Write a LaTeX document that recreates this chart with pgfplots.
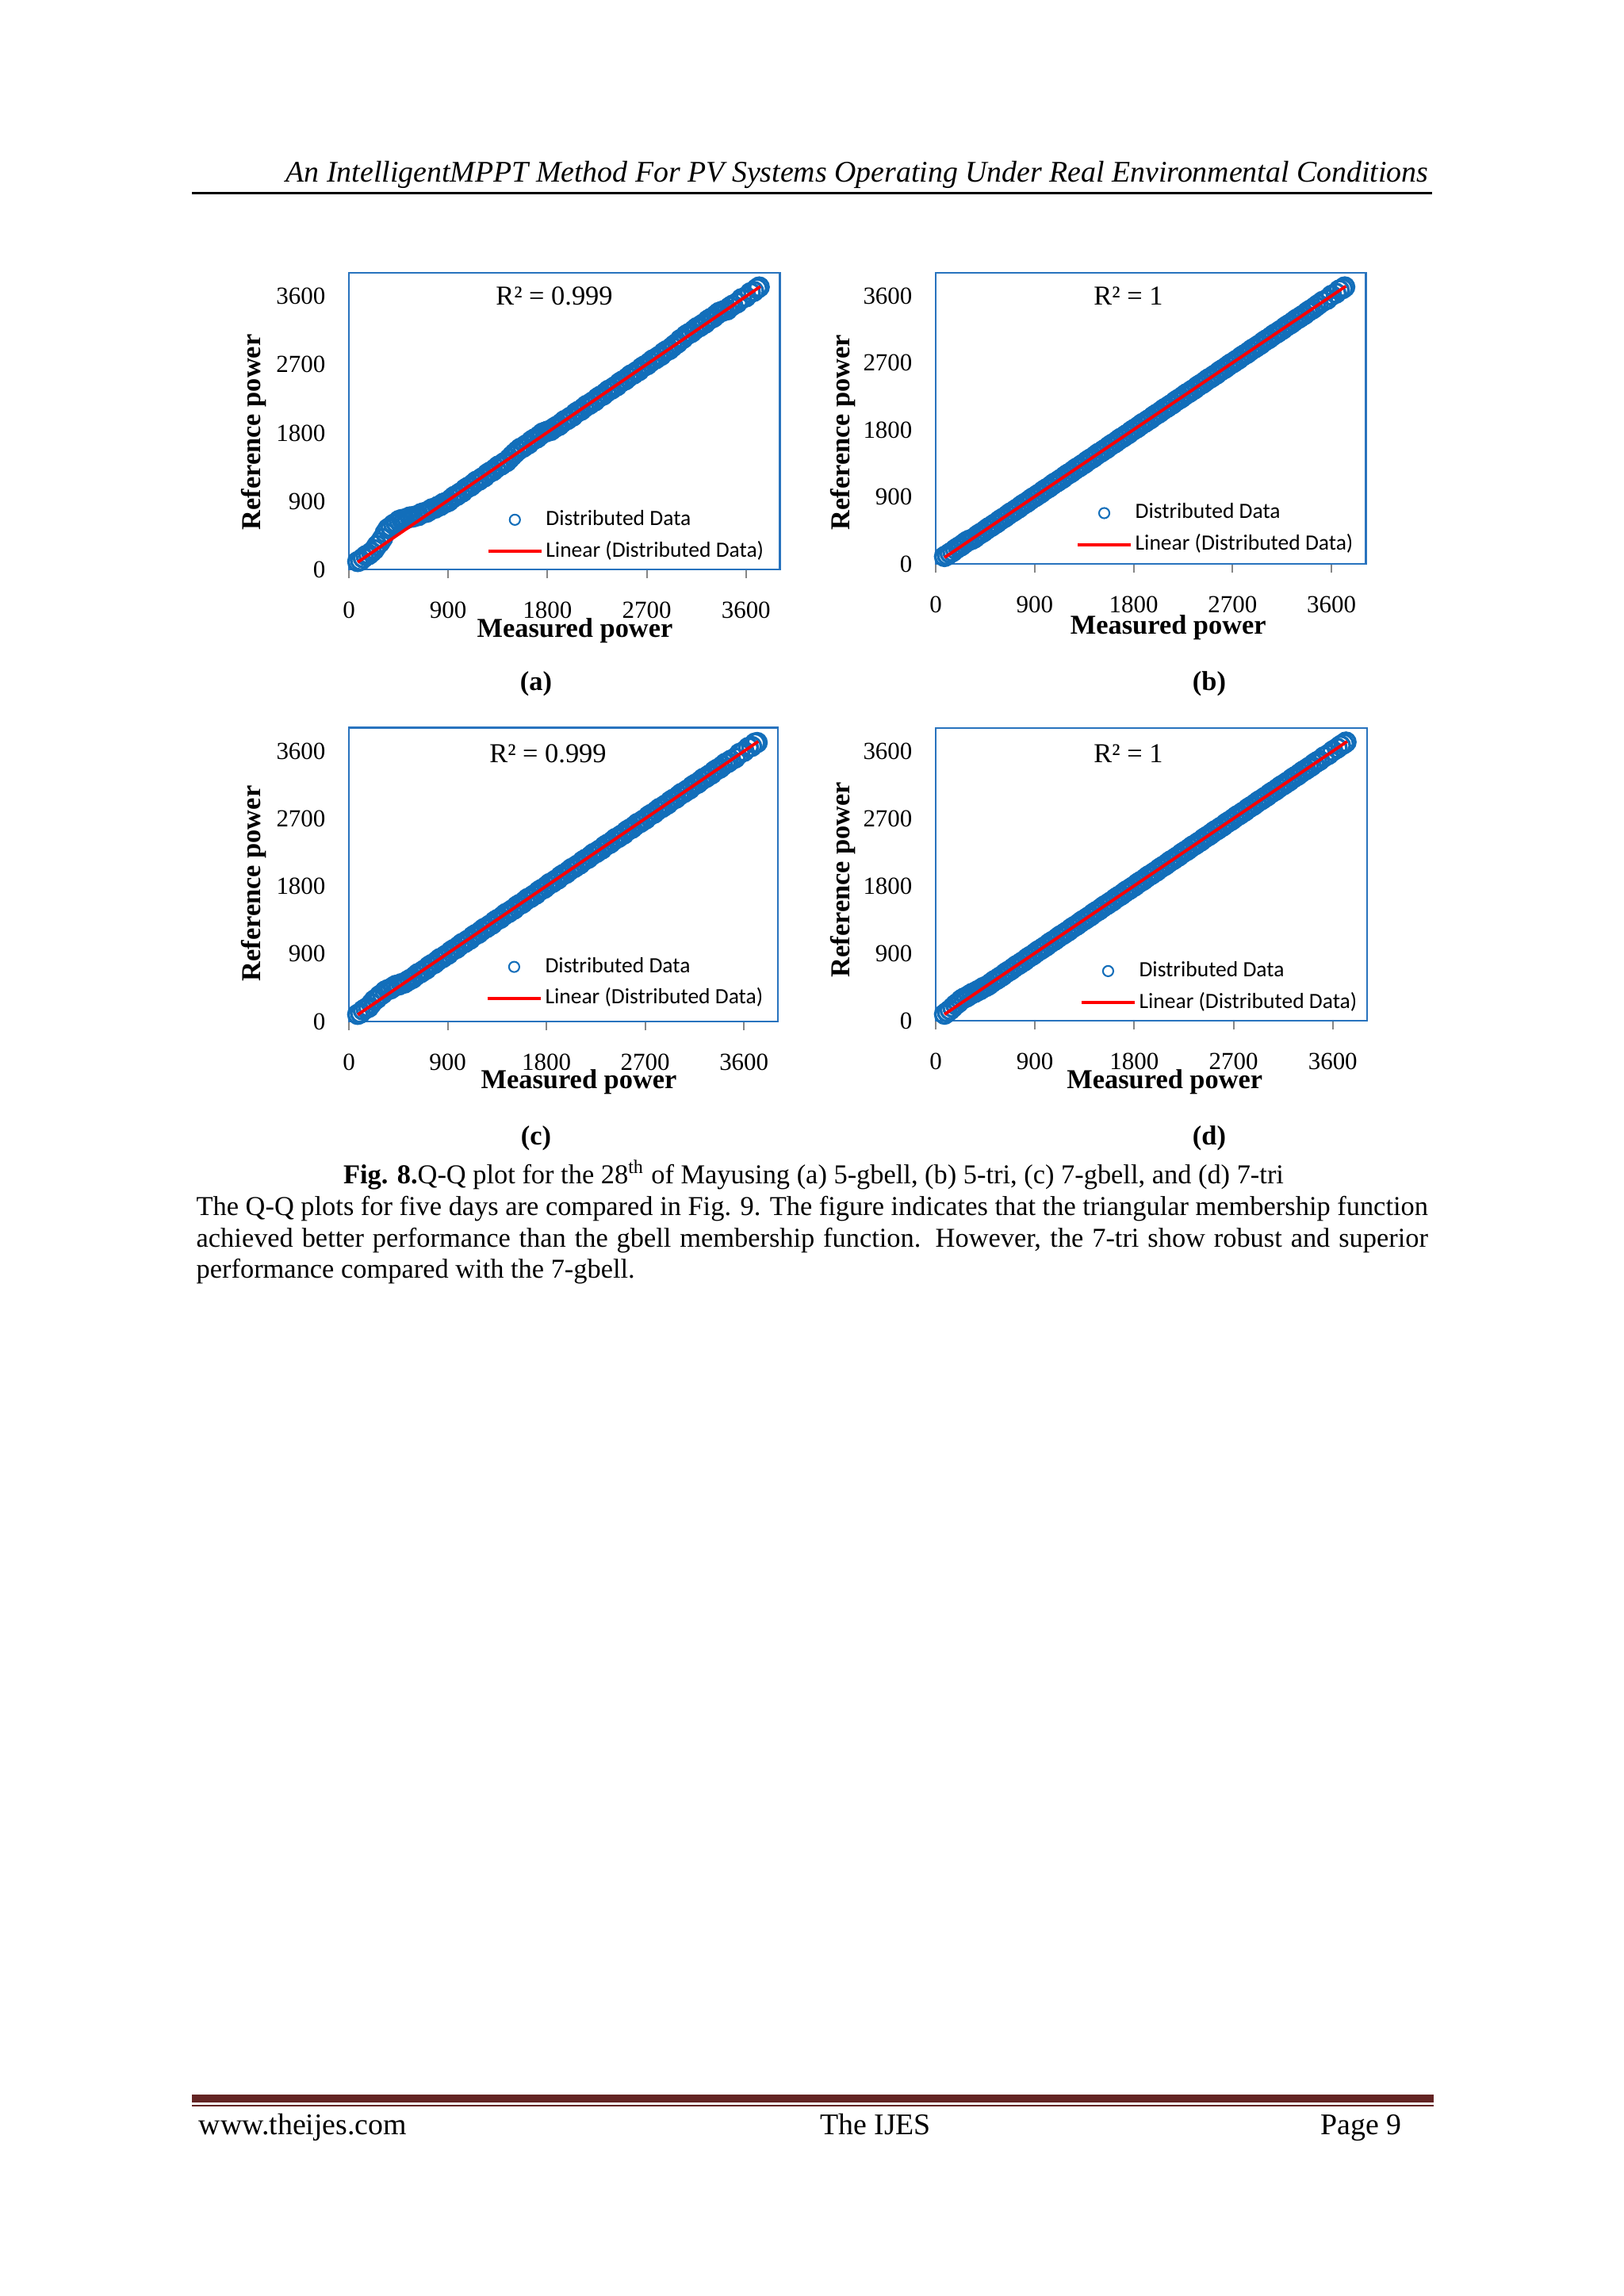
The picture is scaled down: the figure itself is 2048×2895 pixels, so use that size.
\documentclass[border=0pt]{standalone}
\usepackage{fontspec}
\setmainfont{Liberation Serif}
\newfontfamily\carlito{Carlito}
\usepackage{pgfplots}
\usepackage{pgfplotstable}
\pgfplotsset{compat=1.18}

\definecolor{qqblue}{RGB}{18,110,186}
\definecolor{boxblue}{RGB}{40,115,190}
\definecolor{axisgray}{RGB}{134,134,134}
\definecolor{footred}{RGB}{99,36,35}

% measured power (x) against reference power for the four panels a-d
\pgfplotstableread{
x a b c d
80 104 99 95 87
105 119 118 112 116
130 152 145 151 144
155 183 166 174 178
180 196 198 189 215
205 228 222 237 241
230 261 242 283 278
255 316 271 306 302
280 354 299 345 317
305 409 318 367 341
330 482 330 406 364
355 538 351 424 378
380 561 383 434 400
405 595 407 462 416
430 612 427 483 443
455 646 456 486 457
480 659 484 505 477
505 659 503 512 506
530 677 530 536 534
555 693 551 559 553
580 691 583 574 580
605 705 607 607 601
630 710 627 638 633
655 737 656 651 657
680 749 684 680 677
705 754 703 697 706
730 778 730 736 734
755 801 751 759 753
780 807 783 774 780
805 830 807 807 801
830 842 827 838 833
855 871 856 851 857
880 884 884 880 877
905 899 903 897 906
930 932 930 936 934
955 963 951 959 953
980 976 983 974 980
1005 1005 1007 1007 1001
1030 1022 1027 1038 1033
1055 1061 1056 1051 1057
1080 1084 1084 1080 1077
1105 1099 1103 1097 1106
1130 1132 1130 1136 1134
1155 1163 1151 1159 1153
1180 1176 1183 1174 1180
1205 1205 1207 1207 1201
1230 1222 1227 1238 1233
1255 1261 1256 1251 1257
1280 1284 1284 1280 1277
1305 1299 1303 1297 1306
1330 1332 1330 1336 1334
1355 1363 1351 1359 1353
1380 1376 1383 1374 1380
1405 1405 1407 1407 1401
1430 1422 1427 1438 1433
1455 1461 1456 1451 1457
1480 1499 1484 1480 1477
1505 1534 1503 1497 1506
1530 1567 1530 1536 1534
1555 1598 1551 1559 1553
1580 1611 1583 1574 1580
1605 1640 1607 1607 1601
1630 1657 1627 1638 1633
1655 1696 1656 1651 1657
1680 1719 1684 1680 1677
1705 1734 1703 1697 1706
1730 1767 1730 1736 1734
1755 1798 1751 1759 1753
1780 1811 1783 1774 1780
1805 1825 1807 1807 1801
1830 1832 1827 1838 1833
1855 1861 1856 1851 1857
1880 1884 1884 1880 1877
1905 1899 1903 1897 1906
1930 1932 1930 1936 1934
1955 1963 1951 1959 1953
1980 1976 1983 1974 1980
2005 2005 2007 2007 2001
2030 2022 2027 2038 2033
2055 2061 2056 2051 2057
2080 2084 2084 2080 2077
2105 2099 2103 2097 2106
2130 2132 2130 2136 2134
2155 2163 2151 2159 2153
2180 2176 2183 2174 2180
2205 2205 2207 2207 2201
2230 2222 2227 2238 2233
2255 2261 2256 2251 2257
2280 2284 2284 2280 2277
2305 2299 2303 2297 2306
2330 2332 2330 2336 2334
2355 2363 2351 2359 2353
2380 2376 2383 2374 2380
2405 2405 2407 2407 2401
2430 2422 2427 2438 2433
2455 2461 2456 2451 2457
2480 2484 2484 2480 2477
2505 2499 2503 2497 2506
2530 2532 2530 2536 2534
2555 2563 2551 2559 2553
2580 2576 2583 2574 2580
2605 2605 2607 2607 2601
2630 2622 2627 2638 2633
2655 2661 2656 2651 2657
2680 2684 2684 2680 2677
2705 2699 2703 2697 2706
2730 2732 2730 2736 2734
2755 2763 2751 2759 2753
2780 2776 2783 2774 2780
2805 2805 2807 2807 2801
2830 2822 2827 2838 2833
2855 2861 2856 2851 2857
2880 2884 2884 2880 2877
2905 2899 2903 2897 2906
2930 2932 2930 2936 2934
2955 2963 2951 2959 2953
2980 2986 2983 2974 2980
3005 3030 3007 3007 3001
3030 3047 3027 3038 3033
3055 3086 3056 3051 3057
3080 3109 3084 3080 3077
3105 3124 3103 3097 3106
3130 3157 3130 3136 3134
3155 3188 3151 3159 3153
3180 3201 3183 3174 3180
3205 3230 3207 3207 3201
3230 3247 3227 3238 3233
3255 3286 3256 3251 3257
3280 3309 3284 3280 3277
3305 3324 3303 3297 3306
3330 3357 3330 3336 3334
3355 3388 3351 3359 3353
3380 3401 3383 3374 3380
3405 3415 3407 3407 3401
3430 3422 3427 3438 3433
3455 3461 3456 3451 3457
3480 3484 3484 3480 3477
3520 3515 3526 3510 3524
3560 3570 3554 3570 3556
3600 3594 3606 3598 3604
3640 3648 3636 3650 3640
3670 3666 3678 3664 3674
3700 3704 3697 3708 3700
3720 3724 3720 3716 3722
}\qqdata

\pgfplotsset{
  qq/.style={
    scale only axis,
    clip=false,
    clip marker paths=true,
    xmin=0, xmax=3910, ymin=0, ymax=3910,
    xtick={0,900,1800,2700,3600},
    ytick={0,900,1800,2700,3600},
    /pgf/number format/1000 sep={},
    /pgf/number format/assume math mode=true,
    axis x line*=bottom,
    axis y line*=left,
    axis line style={draw=axisgray, line width=0.6pt},
    tick align=outside,
    major tick length=3.2pt,
    xtick style={draw=axisgray, line width=0.6pt},
    ytick style={draw=none},
    tick label style={font=\fontsize{9}{10}\selectfont},
    xticklabel style={anchor=center, inner sep=0pt, yshift=-11.6pt},
    yticklabel style={anchor=east, inner sep=0pt, xshift=-5.2pt},
    xlabel={Measured power},
    ylabel={Reference power},
    label style={font=\bfseries\fontsize{10}{12}\selectfont, inner sep=0pt},
    xlabel style={anchor=center},
    ylabel style={anchor=center},
    legend cell align=left,
    legend style={draw=none, fill=none, inner sep=0pt, anchor=south west,
      font=\carlito\fontsize{8}{9.6}\selectfont, row sep=1.6pt,
      nodes={inner sep=1pt, text height=6pt, text depth=2pt}},
  },
  qqdots/.style={qqblue, only marks, mark=o, mark size=3.4pt,
    mark options={line width=1pt},
    legend image code/.code={\draw[mark repeat=2, mark phase=2, ##1, mark size=1.9pt,
      mark options={line width=0.6pt}] plot coordinates {(0cm,0cm) (0.345cm,0cm) (0.69cm,0cm)};}},
  qqfit/.style={red, line width=1.1pt, no marks,
    legend image code/.code={\draw[##1] (0cm,0cm) -- (0.69cm,0cm);}},
}

\begin{document}
\begin{tikzpicture}
\begin{scope}[x=0.2907pt, y=-0.2907pt]
  \fill[white] (0,0) rectangle (2048,2895);
  \path[use as bounding box] (0,0) rectangle (2048,2895);
  \coordinate (A) at (440,718);
  \coordinate (B) at (1180,711);
  \coordinate (C) at (440,1288);
  \coordinate (D) at (1180,1287);

  % running head
  \node[anchor=base east, inner sep=0pt, font=\fontsize{11}{13}\selectfont\itshape] at (1802,229)
    {An IntelligentMPPT Method For PV Systems Operating Under Real Environmental Conditions};
  \draw[line width=0.9pt] (242,243.5) -- (1806,243.5);

  % R^2 labels
  \node[font=\fontsize{10}{12}\selectfont] at (699,373) {R² = 0.999};
  \node[font=\fontsize{10}{12}\selectfont] at (1423,373) {R² = 1};
  \node[font=\fontsize{10}{12}\selectfont] at (691,950) {R² = 0.999};
  \node[font=\fontsize{10}{12}\selectfont] at (1423,950) {R² = 1};

  % panel letters
  \node[anchor=base, font=\bfseries\fontsize{10}{12}\selectfont] at (676,870) {(a)};
  \node[anchor=base, font=\bfseries\fontsize{10}{12}\selectfont] at (1525,870) {(b)};
  \node[anchor=base, font=\bfseries\fontsize{10}{12}\selectfont] at (676,1443) {(c)};
  \node[anchor=base, font=\bfseries\fontsize{10}{12}\selectfont] at (1525,1443) {(d)};

  % caption and text
  \node[anchor=base, inner sep=0pt, font=\fontsize{10}{12}\selectfont] at (1026,1492)
    {\textbf{Fig. 8.}Q-Q plot for the 28\textsuperscript{th} of Mayusing (a) 5-gbell, (b) 5-tri, (c) 7-gbell, and (d) 7-tri};
  \node[anchor=base west, inner sep=0pt, font=\fontsize{10}{12}\selectfont] at (247,1532)
    {\makebox[451.5pt][s]{The Q-Q plots for five days are compared in Fig. 9. The figure indicates that the triangular membership function}};
  \node[anchor=base west, inner sep=0pt, font=\fontsize{10}{12}\selectfont] at (247,1572)
    {\makebox[451.5pt][s]{achieved better performance than the gbell membership function. However, the 7-tri show robust and superior}};
  \node[anchor=base west, inner sep=0pt, font=\fontsize{10}{12}\selectfont] at (247,1611)
    {performance compared with the 7-gbell.};

  % footer
  \draw[footred, line width=2.9pt] (242,2646) -- (1808,2646);
  \draw[footred, line width=0.7pt] (242,2655) -- (1808,2655);
  \node[anchor=base west, inner sep=0pt, font=\fontsize{11}{13}\selectfont] at (250,2691) {www.theijes.com};
  \node[anchor=base, inner sep=0pt, font=\fontsize{11}{13}\selectfont] at (1104,2691) {The IJES};
  \node[anchor=base east, inner sep=0pt, font=\fontsize{11}{13}\selectfont] at (1768,2691) {Page 9};
\end{scope}

% (a) 5-gbell
\begin{axis}[qq, at={(A)}, anchor=south west, width=158.1pt, height=108.7pt,
  xlabel style={at={(axis description cs:0.524,-0.206)}},
  ylabel style={at={(axis description cs:-0.221,0.463)}},
  legend style={at={(axis description cs:0.318,0.013)}}]
  \draw[boxblue, line width=0.8pt] (rel axis cs:0,0) rectangle (rel axis cs:1,1);
  \addplot[qqdots] table[x=x, y=a] {\qqdata};
  \addplot[qqfit] coordinates {(80,95) (3730,3730)};
  \legend{Distributed Data, Linear (Distributed Data)}
\end{axis}

% (b) 5-tri
\begin{axis}[qq, at={(B)}, anchor=south west, width=157.6pt, height=106.7pt,
  xlabel style={at={(axis description cs:0.541,-0.218)}},
  ylabel style={at={(axis description cs:-0.216,0.452)}},
  legend style={at={(axis description cs:0.325,0.017)}}]
  \draw[boxblue, line width=0.8pt] (rel axis cs:0,0) rectangle (rel axis cs:1,1);
  \addplot[qqdots] table[x=x, y=b] {\qqdata};
  \addplot[qqfit] coordinates {(80,85) (3730,3730)};
  \legend{Distributed Data, Linear (Distributed Data)}
\end{axis}

% (c) 7-gbell
\begin{axis}[qq, at={(C)}, anchor=south west, width=157.3pt, height=107.6pt,
  xlabel style={at={(axis description cs:0.536,-0.205)}},
  ylabel style={at={(axis description cs:-0.222,0.470)}},
  legend style={at={(axis description cs:0.318,0.03)}}]
  \draw[boxblue, line width=0.8pt] (rel axis cs:0,0) rectangle (rel axis cs:1,1);
  \addplot[qqdots] table[x=x, y=c] {\qqdata};
  \addplot[qqfit] coordinates {(80,90) (3730,3730)};
  \legend{Distributed Data, Linear (Distributed Data)}
\end{axis}

% (d) 7-tri
\begin{axis}[qq, at={(D)}, anchor=south west, width=158.1pt, height=107.3pt,
  xlabel style={at={(axis description cs:0.531,-0.209)}},
  ylabel style={at={(axis description cs:-0.215,0.482)}},
  legend style={at={(axis description cs:0.333,0.013)}}]
  \draw[boxblue, line width=0.8pt] (rel axis cs:0,0) rectangle (rel axis cs:1,1);
  \addplot[qqdots] table[x=x, y=d] {\qqdata};
  \addplot[qqfit] coordinates {(80,85) (3730,3730)};
  \legend{Distributed Data, Linear (Distributed Data)}
\end{axis}
\end{tikzpicture}
\end{document}
